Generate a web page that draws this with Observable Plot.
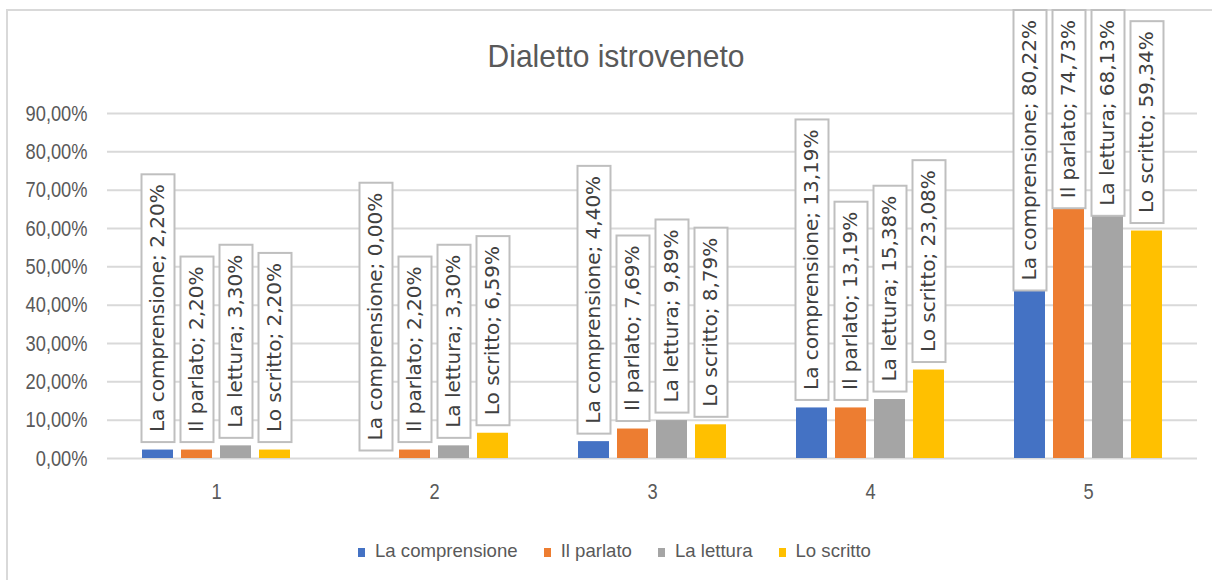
<!DOCTYPE html>
<html>
<head>
<meta charset="utf-8">
<script src="https://cdn.jsdelivr.net/npm/d3@7"></script>
<script src="https://cdn.jsdelivr.net/npm/@observablehq/plot@0.6"></script>
<style>
  html, body { margin: 0; padding: 0; background: #fff; }
  #wrap { position: relative; width: 1212px; height: 580px; overflow: hidden; background: #fff; }
  #frame { position: absolute; left: 6px; top: 9px; width: 1230px; height: 600px; border: 2px solid #d9d9d9; box-sizing: border-box; }
  #chart { position: absolute; left: 0; top: 0; }
  #title { position: absolute; left: 416px; width: 400px; top: 42px; text-align: center;
           font-family: "Liberation Sans", Arial, sans-serif; font-size: 30px; line-height: 30px; color: #595959;
           transform: scaleY(1.06); transform-origin: 50% 85%; }
  #legend { position: absolute; left: 358px; top: 540px; display: flex; white-space: nowrap;
            font-family: "Liberation Sans", Arial, sans-serif; font-size: 18.6px; line-height: 22px; color: #595959; }
  #legend .item { margin-right: 26px; }
  #legend .sw { display: inline-block; width: 7px; height: 9px; margin-right: 10px; vertical-align: baseline; }
</style>
</head>
<body>
<div id="wrap">
  <div id="frame"></div>
  <div id="chart"></div>
  <div id="title"></div>
  <div id="legend"></div>
</div>
<script>
// ---- data ----
const titleText = "Dialetto istroveneto";
const categories = ["1", "2", "3", "4", "5"];
const series = ["La comprensione", "Il parlato", "La lettura", "Lo scritto"];
const colors = ["#4472C4", "#ED7D31", "#A5A5A5", "#FFC000"];
const comprensione = [2.20, 0.00, 4.40, 13.19, 80.22];
const parlato = [2.20, 2.20, 7.69, 13.19, 74.73];
const lettura = [3.30, 3.30, 9.89, 15.38, 68.13];
const scritto = [2.20, 6.59, 8.79, 23.08, 59.34];
const yTicks = [0, 10, 20, 30, 40, 50, 60, 70, 80, 90];

const seriesValues = [comprensione, parlato, lettura, scritto];
const data = [];
categories.forEach((c, i) => {
  series.forEach((s, j) => data.push({cat: c, series: s, value: seriesValues[j][i]}));
});
const fmt = v => v.toFixed(2).replace(".", ",") + "%";

document.getElementById("title").textContent = titleText;

const axisFont = "'Liberation Sans', Arial, sans-serif";

const chart = Plot.plot({
  width: 1212,
  height: 580,
  marginTop: 113,
  marginBottom: 122,
  marginLeft: 105,
  marginRight: 14,
  style: {background: "transparent", overflow: "visible"},
  fx: {domain: categories, padding: 0, label: null},
  x: {domain: series, paddingInner: 0.215, paddingOuter: 0.875, axis: null},
  y: {domain: [0, 90], label: null},
  color: {domain: series, range: colors},
  marks: [
    Plot.ruleY(yTicks, {stroke: "#d9d9d9", strokeWidth: 2}),
    Plot.barY(data, {fx: "cat", x: "series", y: "value", fill: "series"}),
    Plot.text(data, {
      fx: "cat", x: "series", y: "value",
      text: d => `${d.series}; ${fmt(d.value)}`,
      rotate: -90, textAnchor: "start", lineAnchor: "middle",
      dy: -18, fontSize: 20, fontFamily: "'DejaVu Sans', sans-serif", fill: "#404040"
    }),
    Plot.axisY({ticks: yTicks, tickFormat: fmt, tickSize: 0, tickPadding: 20,
      fontSize: 22, fontFamily: axisFont, fill: "#595959", label: null}),
    Plot.axisFx({anchor: "bottom", tickSize: 0, tickPadding: 25,
      fontSize: 22, fontFamily: axisFont, fill: "#595959", label: null})
  ]
});
document.getElementById("chart").appendChild(chart);

// narrow (Calibri-like) axis labels: horizontal condensing about each label's anchor
d3.select(chart)
  .selectAll('g[aria-label="y-axis tick label"] text, g[aria-label="fx-axis tick label"] text')
  .each(function () {
    const tr = this.getAttribute("transform") || "";
    this.setAttribute("transform", tr + " scale(0.83,1)");
  });

// white label boxes behind the rotated data labels (Excel "callout" style)
const svgTop = chart.getBoundingClientRect().top;
const limitTop = 10;
d3.select(chart).selectAll('g[aria-label="text"] text').each(function () {
  const b = this.getBBox();
  const pad = 10;
  const tr = this.getAttribute("transform") || "";
  const rect = document.createElementNS("http://www.w3.org/2000/svg", "rect");
  rect.setAttribute("transform", tr);
  rect.setAttribute("x", b.x - pad);
  rect.setAttribute("width", b.width + 2 * pad);
  rect.setAttribute("y", -16.5);
  rect.setAttribute("height", 33);
  rect.setAttribute("fill", "#ffffff");
  rect.setAttribute("stroke", "#bfbfbf");
  rect.setAttribute("stroke-width", 2);
  this.parentNode.insertBefore(rect, this);
  const top = rect.getBoundingClientRect().top - svgTop;
  if (top < limitTop) {
    const d = limitTop - top;
    rect.setAttribute("transform", tr + ` translate(${-d},0)`);
    this.setAttribute("transform", tr + ` translate(${-d},0)`);
  }
});

// legend
const legend = d3.select("#legend");
series.forEach((s, i) => {
  const item = legend.append("span").attr("class", "item");
  item.append("span").attr("class", "sw").style("background", colors[i]);
  item.append("span").text(s);
});
</script>
</body>
</html>
